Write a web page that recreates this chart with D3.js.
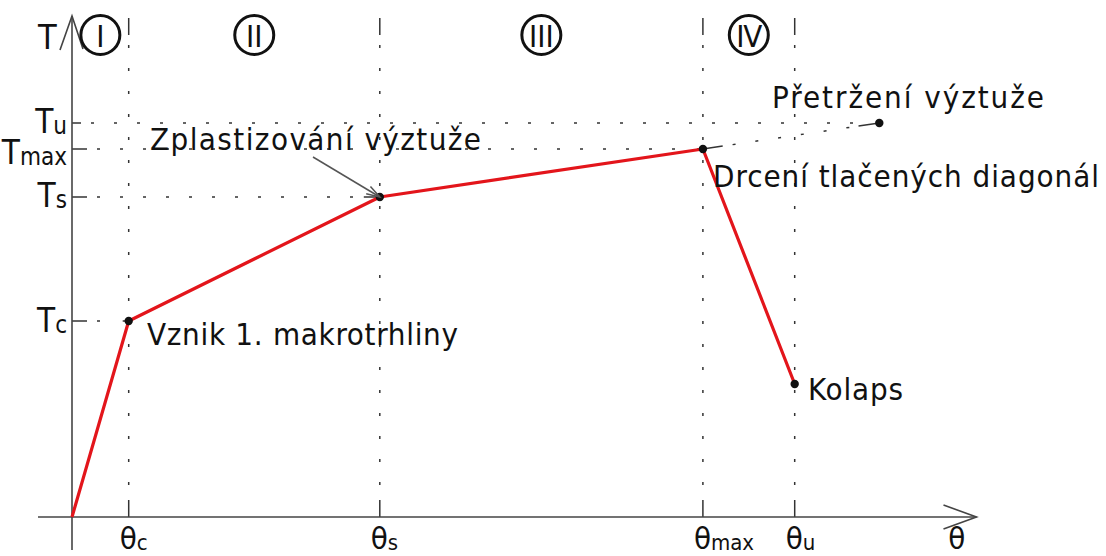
<!DOCTYPE html>
<html>
<head>
<meta charset="utf-8">
<script src="https://cdn.jsdelivr.net/npm/d3@7"></script>
<style>
  html, body { margin: 0; padding: 0; background: #fff; }
  svg { display: block; }
  text { font-family: "DejaVu Sans Condensed", "DejaVu Sans", sans-serif; font-stretch: condensed; fill: #111; }
</style>
</head>
<body>
<svg id="chart" width="1106" height="556"></svg>
<script>
// Characteristic states of the torque–rotation response
const stateKeys   = ["c", "s", "max", "u"];
const stateTheta  = [6.3, 34.2, 70.1, 80.3];   // rotation θ at each state
const stateTorque = [39.2, 64.0, 73.6, 78.8];  // torque T at each state

// Red response curve: origin → cracking → yielding → peak → collapse
const curveTheta  = [0, 6.3, 34.2, 70.1, 80.3];
const curveTorque = [0, 39.2, 64.0, 73.6, 26.6];

// Rupture of reinforcement (Tu reached at larger rotation)
const ruptureTheta  = 89.7;
const ruptureTorque = 78.8;

// Stage numerals between the state rotations
const stageLabels = ["I", "II", "III", "IV"];

// Point descriptions
const noteTexts = [
  "Vznik 1. makrotrhliny",
  "Zplastizování výztuže",
  "Drcení tlačených diagonál",
  "Přetržení výztuže",
  "Kolaps"
];

const svg = d3.select("#chart");
const x = d3.scaleLinear().domain([0, 100]).range([72, 972]);
const y = d3.scaleLinear().domain([0, 100]).range([517, 17]);

const ink = "#333";
const guideW = 1.5;

// guide line: short solid pieces at both ends, sparse dots between
function guide(x1, y1, x2, y2, endA = 16, endB = 16) {
  const len = Math.hypot(x2 - x1, y2 - y1);
  const ux = (x2 - x1) / len, uy = (y2 - y1) / len;
  const g = svg.append("g").attr("stroke", ink).attr("stroke-width", guideW).attr("fill", "none");
  if (endA > 0) g.append("line").attr("x1", x1).attr("y1", y1)
    .attr("x2", x1 + ux * endA).attr("y2", y1 + uy * endA);
  if (endB > 0) g.append("line").attr("x1", x2 - ux * endB).attr("y1", y2 - uy * endB)
    .attr("x2", x2).attr("y2", y2);
  g.append("line")
    .attr("x1", x1 + ux * (endA + 10)).attr("y1", y1 + uy * (endA + 10))
    .attr("x2", x2 - ux * (endB + 4)).attr("y2", y2 - uy * (endB + 4))
    .attr("stroke-dasharray", "3,20");
}

// vertical guides at characteristic rotations
stateTheta.forEach(t => guide(x(t), y(100) + 1, x(t), y(0), 17, 17));

// horizontal guides at characteristic torques
guide(x(0), y(stateTorque[0]), x(stateTheta[0]), y(stateTorque[0]), 15, 6);
guide(x(0), y(stateTorque[1]), x(stateTheta[1]), y(stateTorque[1]), 15, 16);
guide(x(0), y(stateTorque[2]), x(stateTheta[2]), y(stateTorque[2]), 15, 6);
guide(x(0), y(stateTorque[3]), x(ruptureTheta) - 22, y(stateTorque[3]), 9, 0);
// extension from peak to rupture
guide(x(stateTheta[2]), y(stateTorque[2]), x(ruptureTheta), y(ruptureTorque), 20, 21);

// axes
const axes = svg.append("g").attr("stroke", "#444").attr("stroke-width", 1.6).attr("fill", "none");
axes.append("line").attr("x1", x(0)).attr("y1", 550).attr("x2", x(0)).attr("y2", y(100) - 1);
axes.append("line").attr("x1", 38).attr("y1", y(0)).attr("x2", x(100.5)).attr("y2", y(0));
axes.append("path").attr("d", `M${x(0) - 12},${y(100) + 33} L${x(0)},${y(100) - 1} L${x(0) + 11},${y(100) + 32}`);
axes.append("path").attr("d", `M${x(100.5) - 33},${y(0) - 12} L${x(100.5)},${y(0)} L${x(100.5) - 33},${y(0) + 12}`);

// axis titles
svg.append("text").attr("x", 38).attr("y", 49).attr("font-size", 34).text("T");
svg.append("text").attr("x", x(98.3)).attr("y", 549).attr("font-size", 31).attr("text-anchor", "middle").text("θ");

// torque labels on the vertical axis
const tLabelShift = [11, 10, 15, 10];
stateKeys.forEach((k, i) => {
  const t = svg.append("text").attr("x", 67).attr("y", y(stateTorque[i]) + tLabelShift[i])
    .attr("text-anchor", "end").attr("font-size", 33);
  t.append("tspan").text("T");
  t.append("tspan").attr("font-size", 24).attr("dy", 1).text(k);
});

// rotation labels under the horizontal axis
stateKeys.forEach((k, i) => {
  const t = svg.append("text").attr("x", x(stateTheta[i]) - 9).attr("y", 549).attr("font-size", 31);
  t.append("tspan").text("θ");
  t.append("tspan").attr("font-size", 22).attr("dy", 1).text(k);
});

// stage numerals in circles
const stageBounds = [0].concat(stateTheta);
stageLabels.forEach((s, i) => {
  const cx = x((stageBounds[i] + stageBounds[i + 1]) / 2);
  svg.append("circle").attr("cx", cx).attr("cy", 35).attr("r", 19.5)
    .attr("fill", "none").attr("stroke", "#111").attr("stroke-width", 3);
  svg.append("text").attr("x", cx).attr("y", 47).attr("text-anchor", "middle")
    .attr("font-size", 31).attr("letter-spacing", s === "IV" ? -1 : 0).text(s);
});

// response curve
const line = d3.line().x((d, i) => x(curveTheta[i])).y(d => y(d));
svg.append("path").datum(curveTorque).attr("d", line)
  .attr("fill", "none").attr("stroke", "#e3151b").attr("stroke-width", 3.2)
  .attr("stroke-linejoin", "round");

// marked points
const pts = curveTheta.slice(1).map((t, i) => [t, curveTorque[i + 1]]).concat([[ruptureTheta, ruptureTorque]]);
svg.selectAll("circle.pt").data(pts).join("circle").attr("class", "pt")
  .attr("cx", d => x(d[0])).attr("cy", d => y(d[1])).attr("r", 4.2).attr("fill", "#111");

// leader arrow to the yielding point
const ax = x(stateTheta[1]), ay = y(stateTorque[1]);
svg.append("line").attr("x1", 313).attr("y1", 157).attr("x2", ax).attr("y2", ay)
  .attr("stroke", "#555").attr("stroke-width", 1.5);
{
  const ang = Math.atan2(ay - 157, ax - 313);
  const h = 14, sp = 0.3;
  svg.append("path")
    .attr("d", `M${ax - h * Math.cos(ang - sp)},${ay - h * Math.sin(ang - sp)} L${ax},${ay} L${ax - h * Math.cos(ang + sp)},${ay - h * Math.sin(ang + sp)}`)
    .attr("fill", "none").attr("stroke", "#555").attr("stroke-width", 1.5);
}

// descriptions
const noteAt = [
  { x: 147, y: 345, w: 311 },
  { x: 150, y: 150, w: 331 },
  { x: 713, y: 187, w: 386 },
  { x: 772, y: 108, w: 272 },
  { x: 808, y: 400, w: 95 }
];
noteTexts.forEach((s, i) => {
  svg.append("text").attr("x", noteAt[i].x).attr("y", noteAt[i].y)
    .attr("font-size", 31).attr("textLength", noteAt[i].w).attr("lengthAdjust", "spacing").text(s);
});
</script>
</body>
</html>
